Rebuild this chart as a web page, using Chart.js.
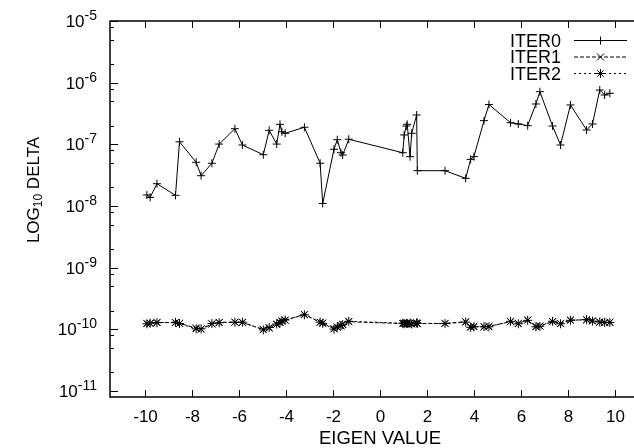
<!DOCTYPE html>
<html>
<head>
<meta charset="utf-8">
<script src="https://cdn.jsdelivr.net/npm/chart.js@4/dist/chart.umd.min.js"></script>
<style>
  html, body { margin: 0; padding: 0; overflow: hidden; background: #fff; }
  #wrap { position: absolute; left: 0; top: 0; width: 660px; height: 448px; }
</style>
</head>
<body>
<div id="wrap"><canvas id="c" width="660" height="448"></canvas></div>
<script>
// Eigenvalues (x) shared by all three iterations
const eigen = [-9.93, -9.79, -9.50, -8.71, -8.54, -7.83, -7.62, -7.16, -6.85, -6.18,
               -5.86, -4.97, -4.72, -4.40, -4.26, -4.18, -4.04, -3.22, -2.55, -2.44,
               -1.96, -1.82, -1.66, -1.59, -1.33, 0.97, 1.03, 1.12, 1.16, 1.28,
               1.35, 1.56, 1.59, 2.77, 3.65, 3.86, 4.00, 4.43, 4.64, 5.56,
               5.89, 6.29, 6.64, 6.81, 7.35, 7.69, 8.11, 8.80, 9.05, 9.36,
               9.57, 9.79];

// Residual delta per eigenvalue, one array per iteration
const iter0 = [1.51e-8, 1.38e-8, 2.30e-8, 1.49e-8, 1.10e-7, 5.12e-8, 3.10e-8, 4.93e-8, 1.01e-7, 1.79e-7,
               9.75e-8, 6.79e-8, 1.69e-7, 1.01e-7, 2.11e-7, 1.60e-7, 1.51e-7, 1.89e-7, 4.93e-8, 1.10e-8,
               8.32e-8, 1.19e-7, 7.31e-8, 6.71e-8, 1.21e-7, 7.31e-8, 1.42e-7, 1.98e-7, 2.11e-7, 6.31e-8,
               1.51e-7, 2.99e-7, 3.74e-8, 3.74e-8, 2.81e-8, 5.71e-8, 6.31e-8, 2.42e-7, 4.43e-7, 2.24e-7,
               2.14e-7, 2.01e-7, 4.51e-7, 7.14e-7, 1.98e-7, 9.75e-8, 4.35e-7, 1.71e-7, 2.14e-7, 7.60e-7,
               6.31e-7, 6.73e-7];
const iter1 = [1.25e-10, 1.24e-10, 1.30e-10, 1.28e-10, 1.25e-10, 1.05e-10, 1.00e-10, 1.22e-10, 1.30e-10, 1.31e-10,
               1.29e-10, 1.00e-10, 1.05e-10, 1.20e-10, 1.30e-10, 1.36e-10, 1.40e-10, 1.75e-10, 1.30e-10, 1.27e-10,
               1.03e-10, 1.08e-10, 1.14e-10, 1.21e-10, 1.33e-10, 1.24e-10, 1.26e-10, 1.22e-10, 1.27e-10, 1.25e-10,
               1.23e-10, 1.26e-10, 1.24e-10, 1.25e-10, 1.33e-10, 1.10e-10, 1.12e-10, 1.09e-10, 1.12e-10, 1.33e-10,
               1.25e-10, 1.42e-10, 1.12e-10, 1.14e-10, 1.33e-10, 1.25e-10, 1.42e-10, 1.42e-10, 1.38e-10, 1.30e-10,
               1.29e-10, 1.31e-10];
const iter2 = [1.23e-10, 1.26e-10, 1.28e-10, 1.30e-10, 1.24e-10, 1.02e-10, 1.02e-10, 1.24e-10, 1.28e-10, 1.30e-10,
               1.31e-10, 9.8e-11, 1.07e-10, 1.22e-10, 1.28e-10, 1.38e-10, 1.42e-10, 1.72e-10, 1.31e-10, 1.25e-10,
               1.01e-10, 1.10e-10, 1.16e-10, 1.19e-10, 1.35e-10, 1.26e-10, 1.23e-10, 1.25e-10, 1.24e-10, 1.27e-10,
               1.22e-10, 1.28e-10, 1.25e-10, 1.24e-10, 1.31e-10, 1.08e-10, 1.10e-10, 1.11e-10, 1.10e-10, 1.35e-10,
               1.23e-10, 1.40e-10, 1.10e-10, 1.12e-10, 1.35e-10, 1.23e-10, 1.40e-10, 1.44e-10, 1.36e-10, 1.32e-10,
               1.30e-10, 1.29e-10];

const seriesNames = ['ITER0', 'ITER1', 'ITER2'];

// Axis ticks
const xTickValues = [-10, -8, -6, -4, -2, 0, 2, 4, 6, 8, 10];
const yDecades = [-11, -10, -9, -8, -7, -6, -5];
const yMinorFactors = [2, 5, 8];
const xTitle = 'EIGEN VALUE';
const yTitleMain = 'LOG';
const yTitleSub = '10';
const yTitleRest = ' DELTA';

const FONT = '"Liberation Sans", Arial, Helvetica, sans-serif';
const pts = (ys) => eigen.map((x, i) => ({ x: x, y: ys[i] }));

const styles = [
  { dash: [], point: 'cross', radius: 4 },
  { dash: [4, 2], point: 'crossRot', radius: 5 },
  { dash: [2, 3], point: 'star', radius: 4.5 }
];
const seriesData = [iter0, iter1, iter2];

const datasets = seriesData.map((ys, i) => ({
  label: seriesNames[i],
  data: pts(ys),
  showLine: true,
  borderColor: '#000',
  backgroundColor: '#000',
  borderWidth: 1,
  borderDash: styles[i].dash,
  pointStyle: styles[i].point,
  pointRadius: styles[i].radius,
  pointBorderWidth: 1,
  pointBorderColor: '#000',
  tension: 0
}));

function drawMarker(ctx, style, cx, cy, r) {
  ctx.beginPath();
  if (style === 'cross' || style === 'star') {
    ctx.moveTo(cx - r, cy); ctx.lineTo(cx + r, cy);
    ctx.moveTo(cx, cy - r); ctx.lineTo(cx, cy + r);
  }
  if (style === 'crossRot' || style === 'star') {
    const d = r * Math.SQRT1_2;
    ctx.moveTo(cx - d, cy - d); ctx.lineTo(cx + d, cy + d);
    ctx.moveTo(cx - d, cy + d); ctx.lineTo(cx + d, cy - d);
  }
  ctx.stroke();
}

// Axes frame, inward ticks, tick labels, titles and key
const frame = {
  id: 'frame',
  afterDraw(chart) {
    const { ctx, chartArea: a, scales } = chart;
    const xs = scales.x, ys = scales.y;
    ctx.save();
    ctx.strokeStyle = '#000';
    ctx.fillStyle = '#000';
    ctx.setLineDash([]);

    ctx.lineWidth = 1.5;
    ctx.beginPath();
    ctx.moveTo(a.right + 5, a.top);
    ctx.lineTo(a.left, a.top);
    ctx.lineTo(a.left, a.bottom);
    ctx.lineTo(a.right + 5, a.bottom);
    ctx.stroke();

    // x ticks (bottom and mirrored on top)
    ctx.lineWidth = 1;
    ctx.font = '17px ' + FONT;
    ctx.textAlign = 'center';
    ctx.textBaseline = 'alphabetic';
    xs.ticks.forEach(t => {
      const px = Math.round(xs.getPixelForValue(t.value)) + 0.5;
      ctx.beginPath();
      ctx.moveTo(px, a.bottom); ctx.lineTo(px, a.bottom - 7);
      ctx.moveTo(px, a.top); ctx.lineTo(px, a.top + 7);
      ctx.stroke();
      ctx.fillText(String(t.value), px, 422);
    });

    // y major ticks with 10^n labels
    ys.ticks.forEach(t => {
      const py = Math.round(ys.getPixelForValue(t.value)) + 0.5;
      ctx.beginPath();
      ctx.moveTo(a.left, py); ctx.lineTo(a.left + 8, py);
      ctx.stroke();
      const exp = String(Math.round(Math.log10(t.value)));
      ctx.font = '14px ' + FONT;
      const wExp = ctx.measureText(exp).width;
      ctx.textAlign = 'right';
      ctx.fillText(exp, 97, py - 1.5);
      ctx.font = '17px ' + FONT;
      ctx.fillText('10', 97 - wExp, py + 5.5);
    });

    // y minor ticks
    yDecades.forEach(d => {
      yMinorFactors.forEach(f => {
        const v = f * Math.pow(10, d);
        if (v < ys.min || v > ys.max) return;
        const py = Math.round(ys.getPixelForValue(v)) + 0.5;
        ctx.beginPath();
        ctx.moveTo(a.left, py); ctx.lineTo(a.left + 4, py);
        ctx.stroke();
      });
    });

    // x title
    ctx.font = '18.5px ' + FONT;
    ctx.textAlign = 'center';
    ctx.fillText(xTitle, (xs.getPixelForValue(0)), 444);

    // y title with subscript, rotated
    ctx.save();
    ctx.translate(39, 190);
    ctx.rotate(-Math.PI / 2);
    ctx.textAlign = 'left';
    ctx.font = '17px ' + FONT;
    const w1 = ctx.measureText(yTitleMain).width;
    const w3 = ctx.measureText(yTitleRest).width;
    ctx.font = '12px ' + FONT;
    const w2 = ctx.measureText(yTitleSub).width;
    let x0 = -(w1 + w2 + w3) / 2;
    ctx.font = '17px ' + FONT;
    ctx.fillText(yTitleMain, x0, 0);
    ctx.font = '12px ' + FONT;
    ctx.fillText(yTitleSub, x0 + w1, 3);
    ctx.font = '17px ' + FONT;
    ctx.fillText(yTitleRest, x0 + w1 + w2, 0);
    ctx.restore();

    // key
    const rows = [40, 56.5, 73];
    chart.data.datasets.forEach((ds, i) => {
      const cy = rows[i];
      ctx.font = '18px ' + FONT;
      ctx.textAlign = 'right';
      ctx.fillText(ds.label, 561, cy + 6.5);
      ctx.lineWidth = 1;
      ctx.setLineDash(styles[i].dash);
      ctx.beginPath();
      ctx.moveTo(574, cy + 0.5); ctx.lineTo(627, cy + 0.5);
      ctx.stroke();
      ctx.setLineDash([]);
      drawMarker(ctx, styles[i].point, 600.5, cy + 0.5, styles[i].radius);
    });

    ctx.restore();
  }
};

new Chart(document.getElementById('c'), {
  type: 'scatter',
  data: { datasets },
  options: {
    responsive: false,
    animation: false,
    devicePixelRatio: 1,
    layout: { padding: { left: 110, top: 21, right: 10, bottom: 51 } },
    plugins: { legend: { display: false }, tooltip: { enabled: false } },
    scales: {
      x: {
        type: 'linear', min: -11.5, max: 11.5, bounds: 'data', display: false,
        afterBuildTicks: (s) => { s.ticks = xTickValues.map(v => ({ value: v })); }
      },
      y: {
        type: 'logarithmic', min: 8e-12, max: 1e-5, bounds: 'data', display: false,
        afterBuildTicks: (s) => { s.ticks = yDecades.map(d => ({ value: Math.pow(10, d) })); }
      }
    }
  },
  plugins: [frame]
});
</script>
</body>
</html>
